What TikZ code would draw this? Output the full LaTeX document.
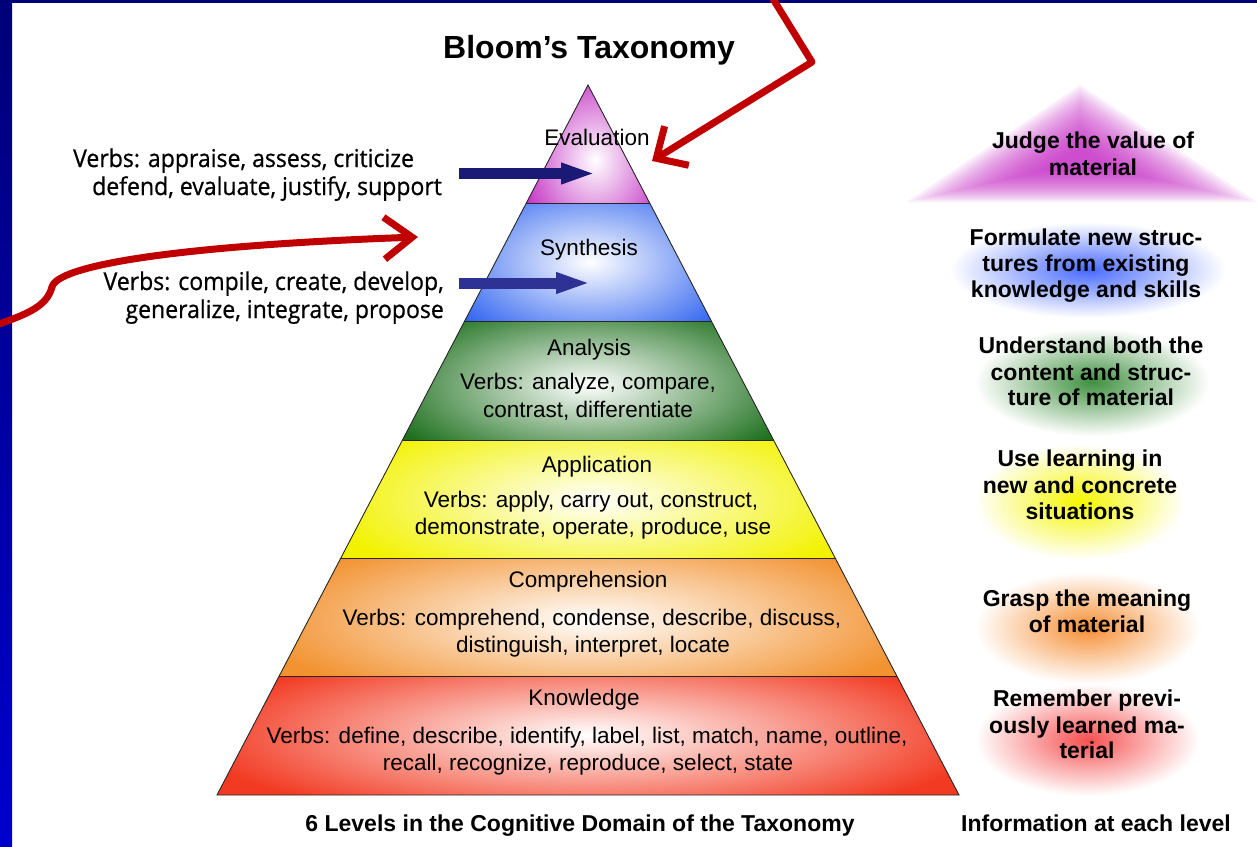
\documentclass[tikz,border=0pt]{standalone}
\usepackage{fontspec}
\setmainfont{Liberation Sans}
\newfontfamily\verbfont[FakeStretch=0.94,FakeBold=0.7]{Open Sans}
\usetikzlibrary{calc,arrows.meta}
\definecolor{evalc}{RGB}{198,56,198}
\definecolor{sync}{RGB}{51,102,240}
\definecolor{anac}{RGB}{30,112,30}
\definecolor{appc}{RGB}{242,242,0}
\definecolor{compc}{RGB}{242,146,48}
\definecolor{knowc}{RGB}{242,58,34}
\definecolor{redarrow}{RGB}{192,0,0}
\definecolor{navyA}{RGB}{26,26,118}
\definecolor{navyB}{RGB}{46,50,148}
\definecolor{frameA}{RGB}{0,0,120}
\definecolor{frameB}{RGB}{0,0,205}
\definecolor{glowM}{RGB}{200,40,200}
\definecolor{glowB}{RGB}{40,80,255}
\definecolor{glowG}{RGB}{30,125,30}
\definecolor{glowY}{RGB}{245,245,0}
\definecolor{glowO}{RGB}{245,130,30}
\definecolor{glowR}{RGB}{245,50,50}
\begin{document}
\begin{tikzpicture}[x=1pt,y=-1pt,
  lvl/.style={font=\fontsize{22.5}{27}\selectfont, inner sep=0pt, anchor=base},
  info/.style={font=\bfseries\fontsize{23}{26}\selectfont, inner sep=0pt, anchor=base},
  leftverb/.style={font=\verbfont\fontsize{24.5}{28}\selectfont, inner sep=0pt},
  redarr/.style={draw=redarrow, line width=7pt, line cap=round, line join=round},
  bluearr/.style={line width=11pt},
  edge/.style={draw=black!85, line width=0.9pt},
  glow/.style={outer color=white, inner color=#1},
]
\useasboundingbox (0,0) rectangle (1257,846);
\fill[white] (0,0) rectangle (1257,846);
% frame strips
\shade[top color=frameA, bottom color=frameB] (0,0) rectangle (12,846);
\fill[frameA] (0,0) rectangle (1257,3);

% pyramid geometry
\coordinate (apex) at (588,85);
\coordinate (bl) at (217,795);
\coordinate (br) at (959,795);
\foreach \i in {1,...,5}{
  \coordinate (L\i) at ($(apex)!\i/6!(bl)$);
  \coordinate (R\i) at ($(apex)!\i/6!(br)$);
}
% bands
\begin{scope}\clip (apex) -- (R1) -- (L1) -- cycle;
  \shade[inner color=white, outer color=evalc] (520,70) rectangle (670,250);\end{scope}
\begin{scope}\clip (L1) -- (R1) -- (R2) -- (L2) -- cycle;
  \shade[inner color=white, outer color=sync] (430,172) rectangle (750,352);\end{scope}
\begin{scope}\clip (L2) -- (R2) -- (R3) -- (L3) -- cycle;
  \shade[inner color=white, outer color=anac] (370,295) rectangle (810,475);\end{scope}
\begin{scope}\clip (L3) -- (R3) -- (R4) -- (L4) -- cycle;
  \shade[inner color=white, outer color=appc] (320,410) rectangle (870,590);\end{scope}
\begin{scope}\clip (L4) -- (R4) -- (R5) -- (L5) -- cycle;
  \shade[inner color=white, outer color=compc] (250,530) rectangle (930,710);\end{scope}
\begin{scope}\clip (L5) -- (R5) -- (br) -- (bl) -- cycle;
  \shade[inner color=white, outer color=knowc] (190,645) rectangle (990,825);\end{scope}
\draw[edge] (apex) -- (br) -- (bl) -- cycle;
\foreach \i in {1,...,5}{ \draw[edge] (L\i) -- (R\i); }

% right-hand glows
\foreach \s in {1,0.96,...,0.2}{
  \fill[glowM, opacity=0.075, scale around={\s:(1080,162)}] (1080,85) -- (1257,202) -- (907,202) -- cycle;
}
\shade[glow=glowB!85!white] (950,222) rectangle (1226,318);
\shade[glow=glowG!85!white] (975,328) rectangle (1210,436);
\shade[glow=glowY] (975,444) rectangle (1185,560);
\shade[glow=glowO!90!white] (975,572) rectangle (1200,684);
\shade[glow=glowR!85!white] (975,684) rectangle (1200,796);

% title
\node[font=\bfseries\fontsize{32}{36}\selectfont, inner sep=0pt, anchor=base] (title) at (589,58) {Bloom’s Taxonomy};

% pyramid labels
\node[lvl] (evalT) at (597,145) {Evaluation};
\node[lvl] (synT) at (589,255) {Synthesis};
\node[lvl] (anaT) at (589,355) {Analysis};
\node[lvl] (anaV1) at (588,389) {Verbs: analyze, compare,};
\node[lvl] (anaV2) at (588,417) {contrast, differentiate};
\node[lvl] (appT) at (597,472) {Application};
\node[lvl] (appV1) at (591,507) {Verbs: apply, carry out, construct,};
\node[lvl] (appV2) at (593,534) {demonstrate, operate, produce, use};
\node[lvl] (compT) at (588,587) {Comprehension};
\node[lvl] (compV1) at (592,625) {Verbs: comprehend, condense, describe, discuss,};
\node[lvl] (compV2) at (593,652) {distinguish, interpret, locate};
\node[lvl] (knowT) at (584,705) {Knowledge};
\node[lvl] (knowV1) at (587,743) {Verbs: define, describe, identify, label, list, match, name, outline,};
\node[lvl] (knowV2) at (588,770) {recall, recognize, reproduce, select, state};

% right-hand information
\node[info] (i1a) at (1093,148) {Judge the value of};
\node[info] (i1b) at (1093,175) {material};
\node[info] (i2a) at (1086,245) {Formulate new struc-};
\node[info] (i2b) at (1086,271) {tures from existing};
\node[info] (i2c) at (1086,297) {knowledge and skills};
\node[info] (i3a) at (1091,353) {Understand both the};
\node[info] (i3b) at (1091,380) {content and struc-};
\node[info] (i3c) at (1091,405) {ture of material};
\node[info] (i4a) at (1080,466) {Use learning in};
\node[info] (i4b) at (1080,493) {new and concrete};
\node[info] (i4c) at (1080,519) {situations};
\node[info] (i5a) at (1087,606) {Grasp the meaning};
\node[info] (i5b) at (1087,632) {of material};
\node[info] (i6a) at (1087,706) {Remember previ-};
\node[info] (i6b) at (1087,733) {ously learned ma-};
\node[info] (i6c) at (1087,758) {terial};

% captions
\node[info] (capL) at (580,831) {6 Levels in the Cognitive Domain of the Taxonomy};
\node[info] (capR) at (1096,831) {Information at each level};

% left verbs
\node[leftverb, anchor=base west] (ev1) at (73,167) {Verbs: appraise, assess, criticize};
\node[leftverb, anchor=base west] (ev2) at (92,195) {defend, evaluate, justify, support};
\node[leftverb, anchor=base east] (sv1) at (444,290) {Verbs: compile, create, develop,};
\node[leftverb, anchor=base east] (sv2) at (444,318) {generalize, integrate, propose};

% blue arrows
\coordinate (b1s) at (459,173.5); \coordinate (b1e) at (596,173.5);
\coordinate (b2s) at (459,283); \coordinate (b2e) at (591,283);
\draw[bluearr, navyA, -{Triangle[length=35pt,width=19pt]}] (b1s) -- (b1e);
\draw[bluearr, navyB, -{Triangle[length=35pt,width=19pt]}] (b2s) -- (b2e);

% red arrows
\coordinate (r1s) at (770,-6);
\coordinate (r1m) at (812,62);
\coordinate (r1e) at (652,161);
\draw[redarr, -{Straight Barb[length=24pt,width=46pt,line width=7pt]}] (r1s) -- (r1m) -- (r1e);
\coordinate (r2s) at (-4,325);
\coordinate (r2m) at (52,287);
\coordinate (r2e) at (418,237);
\draw[redarr, -{Straight Barb[length=28pt,width=42pt,line width=7pt]}] (r2s) .. controls (28,314) and (47,306) .. (r2m) .. controls (57,266) and (170,246) .. (r2e);
\end{tikzpicture}
\end{document}
